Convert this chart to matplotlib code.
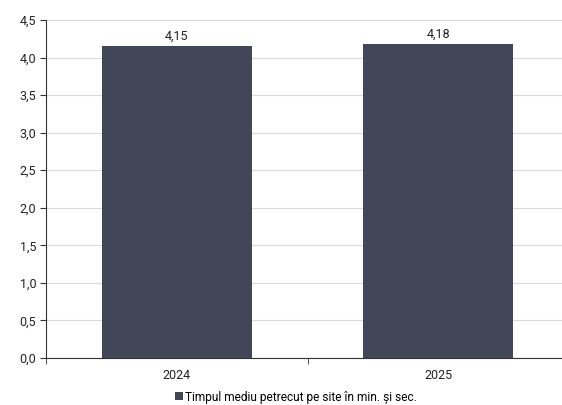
import matplotlib.pyplot as plt
import numpy as np

plt.rcParams['font.family'] = ['Roboto', 'DejaVu Sans']

# Data
years = ["2024", "2025"]
values = [4.15, 4.18]
series_name = "Timpul mediu petrecut pe site în min. și sec."
bar_color = "#414658"

fig = plt.figure(figsize=(5.62, 4.05), dpi=100)
ax = fig.add_axes([46 / 562, 47 / 405, 523 / 562, 338 / 405])

x = np.arange(len(years))
bars = ax.bar(x, values, width=0.575, color=bar_color, label=series_name, zorder=3)

for xi, v in zip(x, values):
    ax.text(xi, v + 0.045, f"{v:.2f}".replace(".", ","), ha="center", va="bottom",
            fontsize=9, color="#222222")

ax.set_xlim(-0.5, 1.5)
ax.set_ylim(0, 4.5)
yt = np.arange(0, 4.51, 0.5)
ax.set_yticks(yt)
ax.set_yticklabels([f"{t:.1f}".replace(".", ",") for t in yt])
ax.set_xticks(x)
ax.set_xticklabels(years)
ax.set_xticks([-0.5, 0.5, 1.5], minor=True)
ax.tick_params(axis="x", which="major", length=0, pad=8, labelsize=9, colors="#222222")
ax.tick_params(axis="x", which="minor", length=4, direction="out", color="#333333")
ax.tick_params(axis="y", length=4, direction="out", labelsize=9, colors="#222222", pad=3)
ax.tick_params(axis="y", color="#333333")

ax.grid(axis="y", color="#d9d9d9", linewidth=0.8, zorder=0)
for s in ["top", "right"]:
    ax.spines[s].set_visible(False)
ax.spines["left"].set_color("#333333")
ax.spines["bottom"].set_color("#333333")

fig.legend(handles=[bars], labels=[series_name], loc="center", bbox_to_anchor=(296 / 562, 1 - 397 / 405),
           frameon=False, fontsize=8.6, handlelength=0.7, handleheight=0.7, handletextpad=0.2)

fig.savefig("out.png", dpi=100)
